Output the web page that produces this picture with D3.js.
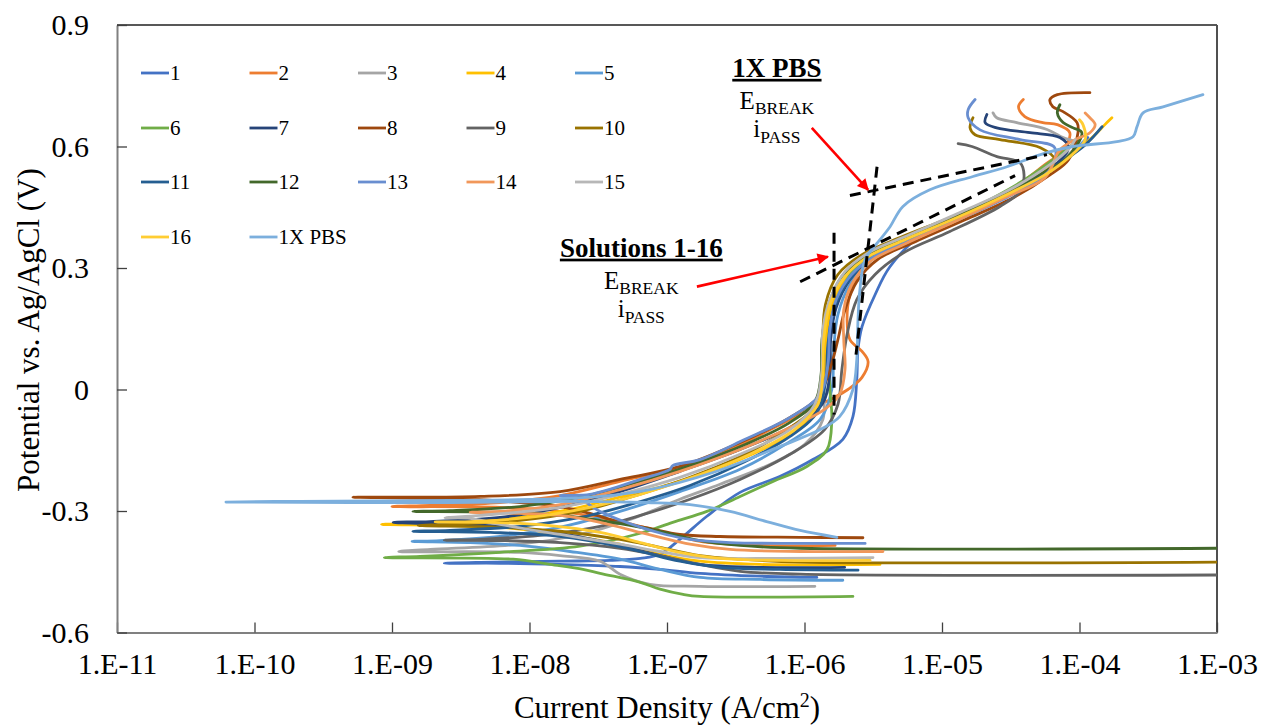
<!DOCTYPE html>
<html>
<head>
<meta charset="utf-8">
<script src="https://cdn.jsdelivr.net/npm/d3@7"></script>
<style>
  body { margin: 0; background: #fff; }
  svg { display: block; }
  text { font-family: "Liberation Serif", "Times New Roman", serif; fill: #000; }
</style>
</head>
<body>
<svg id="chart" width="1262" height="725"></svg>
<script>
// Axis ticks
const xTicks = [1e-11, 1e-10, 1e-9, 1e-8, 1e-7, 1e-6, 1e-5, 1e-4, 1e-3];
const xTickLabels = ["1.E-11", "1.E-10", "1.E-09", "1.E-08", "1.E-07", "1.E-06", "1.E-05", "1.E-04", "1.E-03"];
const yTicks = [-0.6, -0.3, 0, 0.3, 0.6, 0.9];
const yTickLabels = ["-0.6", "-0.3", "0", "0.3", "0.6", "0.9"];

// Series names and colours
const seriesNames = ["1", "2", "3", "4", "5", "6", "7", "8", "9", "10", "11", "12", "13", "14", "15", "16", "1X PBS"];
const seriesColors = ["#4472C4", "#ED7D31", "#A5A5A5", "#FFC000", "#5B9BD5", "#70AD47", "#264478", "#9E480E",
                      "#636363", "#997300", "#255E91", "#43682B", "#698ED0", "#F1975A", "#B7B7B7", "#FFCD33", "#7CAFDD"];

// Polarization scans: [current density (A/cm2), potential (V vs Ag/AgCl)]
const s1 = [[1.23e-6,-0.464],[4.75e-7,-0.461],[1.74e-7,-0.454],[8.9e-8,-0.444],[4.55e-8,-0.437],[1.67e-8,-0.432],[6.1e-9,-0.429],[2.4e-9,-0.429],
  [4.4e-9,-0.427],[1.67e-8,-0.424],[3.85e-8,-0.422],[6.4e-8,-0.417],[8.9e-8,-0.407],[1.24e-7,-0.37],[1.95e-7,-0.313],[3.4e-7,-0.254],[6.6e-7,-0.215],
  [1.15e-6,-0.173],[1.9e-6,-0.123],[2.25e-6,-0.067],[2.4e-6,0.025],[2.45e-6,0.099],[2.62e-6,0.155],[3.26e-6,0.234],[4.18e-6,0.303],[7.3e-6,0.387],
  [1.29e-5,0.432],[2.97e-5,0.486],[6.9e-5,0.55],[1.0e-4,0.6],[1.15e-4,0.622]];
const s2 = [[1.67e-6,-0.385],[4.75e-7,-0.385],[1.74e-7,-0.375],[8.9e-8,-0.35],[4.55e-8,-0.326],[1.67e-8,-0.301],[6.1e-9,-0.291],[1.0e-9,-0.289],
  [1.89e-9,-0.286],[6.1e-9,-0.279],[1.67e-8,-0.262],[4.55e-8,-0.227],[1.24e-7,-0.192],[3.4e-7,-0.136],[7.85e-7,-0.074],[1.53e-6,-0.025],[2.07e-6,0],
  [2.62e-6,0.03],[2.9e-6,0.069],[2.62e-6,0.094],[2.14e-6,0.123],[2.04e-6,0.173],[2.14e-6,0.234],[2.53e-6,0.291],[3.54e-6,0.34],[6.4e-6,0.382],
  [1.47e-5,0.439],[3.4e-5,0.501],[5.6e-5,0.555],[7.4e-5,0.587],[8.5e-5,0.634],[6.9e-5,0.654],[5.4e-5,0.659],[4.0e-5,0.674],[3.6e-5,0.698],[3.9e-5,0.716]];
const s3 = [[1.19e-6,-0.486],[1.74e-7,-0.486],[7.5e-8,-0.481],[4.55e-8,-0.456],[3.26e-8,-0.424],[1.67e-8,-0.41],[8.5e-9,-0.402],[1.12e-9,-0.4],
  [1.9e-9,-0.395],[8.5e-9,-0.382],[2.33e-8,-0.358],[5.4e-8,-0.321],[1.24e-7,-0.271],[2.43e-7,-0.234],[5.6e-7,-0.185],[1.0e-6,-0.136],[1.36e-6,-0.074],
  [1.36e-6,0.025],[1.4e-6,0.123],[1.58e-6,0.21],[1.97e-6,0.276],[2.9e-6,0.333],[5.4e-6,0.375],[1.14e-5,0.419],[2.64e-5,0.474],[5.6e-5,0.53],
  [8.3e-5,0.58],[9.7e-5,0.607],[7.6e-5,0.622],[5.8e-5,0.642],[3.5e-5,0.659],[2.5e-5,0.671],[2.35e-5,0.683]];
const s4 = [[3.54e-6,-0.432],[4.75e-7,-0.432],[1.74e-7,-0.424],[8.9e-8,-0.407],[4.55e-8,-0.382],[1.67e-8,-0.358],[6.1e-9,-0.34],[8.4e-10,-0.333],
  [1.6e-9,-0.331],[6.1e-9,-0.321],[1.67e-8,-0.301],[4.55e-8,-0.266],[1.24e-7,-0.227],[3.4e-7,-0.173],[7.85e-7,-0.111],[1.25e-6,-0.049],[1.4e-6,0.025],
  [1.43e-6,0.123],[1.6e-6,0.21],[2.07e-6,0.284],[3.1e-6,0.333],[5.8e-6,0.375],[1.35e-5,0.429],[3.1e-5,0.486],[6.6e-5,0.548],[1.19e-4,0.617],
  [1.53e-4,0.654],[1.72e-4,0.671]];
const s5 = [[1.9e-6,-0.471],[4.75e-7,-0.469],[1.74e-7,-0.464],[8.9e-8,-0.444],[4.55e-8,-0.419],[1.97e-8,-0.4],[8.5e-9,-0.385],[3.7e-9,-0.378],[1.4e-9,-0.375],
  [2.23e-9,-0.373],[6.1e-9,-0.363],[1.67e-8,-0.34],[4.55e-8,-0.301],[1.24e-7,-0.252],[3.4e-7,-0.197],[7.2e-7,-0.136],[1.3e-6,-0.074],[1.58e-6,0],
  [1.63e-6,0.099],[1.75e-6,0.185],[2.14e-6,0.259],[3.1e-6,0.321],[5.4e-6,0.365],[1.24e-5,0.415],[2.87e-5,0.474],[6.1e-5,0.538],[9.3e-5,0.592],[1.1e-4,0.617]];
const s6 = [[2.25e-6,-0.511],[1.74e-7,-0.511],[1.31e-7,-0.506],[8.9e-8,-0.493],[6.4e-8,-0.476],[3.26e-8,-0.454],[2.45e-8,-0.444],[1.41e-8,-0.432],[7.6e-9,-0.419],[8.8e-10,-0.415],
  [1.6e-9,-0.412],[6.1e-9,-0.402],[2.33e-8,-0.387],[6.4e-8,-0.355],[1.1e-7,-0.328],[1.95e-7,-0.301],[3.4e-7,-0.264],[5.9e-7,-0.227],[1.04e-6,-0.19],
  [1.46e-6,-0.148],[1.58e-6,-0.074],[1.53e-6,0],[1.5e-6,0.099],[1.58e-6,0.173],[1.87e-6,0.247],[2.45e-6,0.308],[3.54e-6,0.345],[6.9e-6,0.387],
  [1.6e-5,0.444],[3.7e-5,0.511],[7.2e-5,0.58],[9.8e-5,0.617]];
const s7 = [[1.96e-6,-0.439],[4.75e-7,-0.439],[1.74e-7,-0.432],[8.9e-8,-0.41],[4.55e-8,-0.385],[1.67e-8,-0.355],[6.1e-9,-0.338],[1.02e-9,-0.328],
  [1.89e-9,-0.326],[6.1e-9,-0.316],[1.67e-8,-0.291],[4.55e-8,-0.252],[1.24e-7,-0.202],[3.4e-7,-0.148],[7.85e-7,-0.094],[1.34e-6,-0.037],[1.53e-6,0.037],
  [1.55e-6,0.123],[1.7e-6,0.202],[2.14e-6,0.271],[3.15e-6,0.326],[5.8e-6,0.37],[1.35e-5,0.424],[3.1e-5,0.481],[6.1e-5,0.543],[8.3e-5,0.597],
  [7.2e-5,0.622],[4.37e-5,0.634],[2.5e-5,0.646],[2.06e-5,0.659],[2.12e-5,0.679]];
const s8 = [[2.66e-6,-0.366],[9.3e-7,-0.365],[2.43e-7,-0.363],[1.24e-7,-0.358],[7.5e-8,-0.343],[4.55e-8,-0.328],[2.75e-8,-0.306],[1.67e-8,-0.289],[8.5e-9,-0.279],[3.7e-9,-0.271],[5.2e-10,-0.266],
  [1.14e-9,-0.266],[4.4e-9,-0.264],[1.67e-8,-0.252],[4.55e-8,-0.222],[1.24e-7,-0.19],[3.4e-7,-0.131],[7.85e-7,-0.069],[1.25e-6,-0.02],[1.53e-6,0.049],
  [1.75e-6,0.123],[1.97e-6,0.197],[2.4e-6,0.266],[3.4e-6,0.321],[6.4e-6,0.365],[1.47e-5,0.419],[3.4e-5,0.476],[6.1e-5,0.53],[8.3e-5,0.567],
  [9.75e-5,0.634],[9.6e-5,0.659],[7.6e-5,0.686],[6.4e-5,0.698],[6.1e-5,0.716],[6.9e-5,0.728],[1.19e-4,0.733]];
const s9 = [[1e-3,-0.458],[9.3e-7,-0.456],[3.4e-7,-0.449],[1.74e-7,-0.432],[8.9e-8,-0.41],[4.55e-8,-0.392],[1.67e-8,-0.378],[6.1e-9,-0.373],[2.4e-9,-0.372],
  [4.4e-9,-0.37],[1.19e-8,-0.36],[3.26e-8,-0.338],[6.4e-8,-0.311],[1.47e-7,-0.271],[3.4e-7,-0.222],[7.85e-7,-0.16],[1.4e-6,-0.099],[1.75e-6,-0.037],
  [1.87e-6,0.049],[2.04e-6,0.136],[2.4e-6,0.222],[3.26e-6,0.284],[5.4e-6,0.34],[1.14e-5,0.39],[2.64e-5,0.452],[3.69e-5,0.489],[3.95e-5,0.53],
  [3.69e-5,0.56],[2.51e-5,0.575],[1.65e-5,0.6],[1.31e-5,0.607]];
const s10 = [[1e-3,-0.426],[9.3e-7,-0.426],[3.4e-7,-0.419],[1.74e-7,-0.41],[8.9e-8,-0.39],[4.55e-8,-0.37],[1.67e-8,-0.35],[6.1e-9,-0.34],[1.55e-9,-0.336],
  [2.64e-9,-0.333],[8.5e-9,-0.323],[2.33e-8,-0.301],[5.4e-8,-0.266],[1.47e-7,-0.217],[3.7e-7,-0.16],[7.85e-7,-0.094],[1.24e-6,-0.037],[1.36e-6,0.037],
  [1.36e-6,0.123],[1.42e-6,0.21],[1.75e-6,0.284],[2.62e-6,0.333],[4.95e-6,0.375],[1.14e-5,0.424],[2.64e-5,0.479],[5.2e-5,0.53],[6.6e-5,0.567],
  [5.2e-5,0.597],[2.64e-5,0.617],[1.74e-5,0.629],[1.6e-5,0.646],[1.68e-5,0.671]];
const s11 = [[2.45e-6,-0.446],[6.6e-7,-0.444],[2.43e-7,-0.439],[1.24e-7,-0.424],[6.4e-8,-0.4],[3.26e-8,-0.378],[1.41e-8,-0.36],[5.2e-9,-0.353],[1.42e-9,-0.35],
  [2.64e-9,-0.348],[8.5e-9,-0.338],[2.33e-8,-0.316],[5.4e-8,-0.284],[1.47e-7,-0.237],[3.7e-7,-0.178],[7.85e-7,-0.116],[1.25e-6,-0.054],[1.43e-6,0.025],
  [1.48e-6,0.111],[1.63e-6,0.197],[2.07e-6,0.266],[3.0e-6,0.321],[5.4e-6,0.365],[1.24e-5,0.419],[2.87e-5,0.479],[6.1e-5,0.543],[1.1e-4,0.604],[1.46e-4,0.649]];
const s12 = [[1e-3,-0.392],[9.3e-7,-0.392],[3.4e-7,-0.385],[1.74e-7,-0.373],[8.9e-8,-0.35],[4.55e-8,-0.331],[1.67e-8,-0.311],[6.1e-9,-0.303],[1.42e-9,-0.301],
  [2.64e-9,-0.299],[8.5e-9,-0.289],[2.33e-8,-0.266],[5.4e-8,-0.234],[1.47e-7,-0.188],[3.7e-7,-0.136],[7.85e-7,-0.081],[1.19e-6,-0.03],[1.32e-6,0.037],
  [1.34e-6,0.123],[1.5e-6,0.21],[1.87e-6,0.279],[2.8e-6,0.328],[5.4e-6,0.37],[1.24e-5,0.424],[2.87e-5,0.484],[5.6e-5,0.538],[7.85e-5,0.567],
  [1.04e-4,0.634],[9.0e-5,0.646],[7.6e-5,0.659],[6.9e-5,0.683],[7.2e-5,0.703]];
const s13 = [[2.76e-6,-0.38],[9.3e-7,-0.38],[2.87e-7,-0.378],[1.47e-7,-0.37],[9.8e-8,-0.358],[6.4e-8,-0.34],[3.26e-8,-0.301],[2.33e-8,-0.271],[1.67e-8,-0.262],
  [2.75e-8,-0.259],[6.4e-8,-0.222],[1.05e-7,-0.197],[1.1e-7,-0.188],[1.74e-7,-0.173],[3.7e-7,-0.123],[7.85e-7,-0.069],[1.3e-6,-0.012],[1.48e-6,0.062],
  [1.53e-6,0.148],[1.7e-6,0.222],[2.2e-6,0.284],[3.3e-6,0.331],[6.05e-6,0.37],[1.4e-5,0.424],[3.23e-5,0.481],[6.1e-5,0.543],[6.6e-5,0.597],
  [3.7e-5,0.617],[1.89e-5,0.641],[1.55e-5,0.671],[1.55e-5,0.691],[1.74e-5,0.716]];
const s14 = [[3.72e-6,-0.4],[9.3e-7,-0.4],[2.87e-7,-0.395],[1.47e-7,-0.382],[8.9e-8,-0.365],[6.4e-8,-0.353],[3.26e-8,-0.328],[1.67e-8,-0.311],[8.5e-9,-0.306],[3.7e-9,-0.303],
  [6.1e-9,-0.301],[1.67e-8,-0.284],[4.55e-8,-0.247],[1.24e-7,-0.202],[3.4e-7,-0.148],[7.85e-7,-0.094],[1.4e-6,-0.049],[1.8e-6,-0.012],[1.97e-6,0.049],
  [1.93e-6,0.123],[1.93e-6,0.197],[2.2e-6,0.259],[3.0e-6,0.316],[5.4e-6,0.36],[1.24e-5,0.415],[2.87e-5,0.474],[5.6e-5,0.523],[7.2e-5,0.592],
  [9.3e-5,0.617],[1.19e-4,0.634],[1.3e-4,0.654],[1.19e-4,0.671],[1.1e-4,0.683]];
const s15 = [[3.15e-6,-0.415],[6.6e-7,-0.417],[1.74e-7,-0.415],[8.9e-8,-0.4],[4.55e-8,-0.382],[1.67e-8,-0.358],[6.1e-9,-0.333],[3.7e-9,-0.318],[2.43e-9,-0.317],
  [4.4e-9,-0.311],[1.67e-8,-0.291],[4.55e-8,-0.259],[1.24e-7,-0.217],[3.4e-7,-0.16],[7.85e-7,-0.099],[1.19e-6,-0.037],[1.34e-6,0.049],[1.36e-6,0.148],
  [1.53e-6,0.222],[1.97e-6,0.291],[3.0e-6,0.34],[5.8e-6,0.382],[1.35e-5,0.437],[3.1e-5,0.493],[6.1e-5,0.555],[8.5e-5,0.597],[9.3e-5,0.617]];
const s16 = [[3.0e-6,-0.422],[6.6e-7,-0.422],[2.43e-7,-0.417],[1.24e-7,-0.402],[6.4e-8,-0.378],[3.26e-8,-0.353],[1.41e-8,-0.336],[5.2e-9,-0.328],[2.06e-9,-0.327],
  [3.7e-9,-0.326],[1.0e-8,-0.316],[2.75e-8,-0.291],[6.4e-8,-0.259],[1.74e-7,-0.21],[4.0e-7,-0.16],[8.5e-7,-0.099],[1.25e-6,-0.037],[1.36e-6,0.037],
  [1.38e-6,0.123],[1.53e-6,0.21],[1.97e-6,0.279],[2.9e-6,0.328],[5.4e-6,0.37],[1.24e-5,0.422],[2.87e-5,0.479],[5.6e-5,0.53],[8.3e-5,0.572],
  [1.1e-4,0.617],[1.06e-4,0.654],[1.0e-4,0.666]];
const sPBS = [[1.72e-6,-0.365],[9.3e-7,-0.348],[5.3e-7,-0.326],[2.87e-7,-0.301],[1.47e-7,-0.284],[7.1e-8,-0.279],[2.33e-8,-0.276],[2.64e-9,-0.279],[6.2e-11,-0.278],
  [2.14e-10,-0.276],[2.64e-9,-0.274],[1.19e-8,-0.271],[3.26e-8,-0.264],[7.5e-8,-0.247],[2.16e-7,-0.205],[6.6e-7,-0.141],[1.3e-6,-0.099],[1.8e-6,-0.067],
  [2.25e-6,0],[2.4e-6,0.074],[2.45e-6,0.173],[2.53e-6,0.247],[2.76e-6,0.321],[3.54e-6,0.37],[4.19e-6,0.402],[5.2e-6,0.452],[8.16e-6,0.493],
  [1.68e-5,0.526],[2.97e-5,0.55],[5.2e-5,0.58],[8.95e-5,0.6],[1.87e-4,0.612],[2.45e-4,0.624],[2.62e-4,0.649],[2.9e-4,0.683],[4.05e-4,0.698],[7.9e-4,0.728]];

const seriesData = [s1, s2, s3, s4, s5, s6, s7, s8, s9, s10, s11, s12, s13, s14, s15, s16, sPBS];

// Tangent constructions for E_break / i_pass: [current, potential] end points
const pbsTangentPass = [[2.14e-6, 0.479], [5.8e-5, 0.58]];
const pbsTangentBreak = [[3.37e-6, 0.55], [2.37e-6, 0.086]];
const solTangentPass = [[1.64e-6, 0.387], [1.64e-6, -0.062]];
const solTangentBreak = [[9.3e-7, 0.266], [3.4e-5, 0.528]];
const arrowPBS = [[1.13e-6, 0.646], [2.9e-6, 0.493]];
const arrowSol = [[1.65e-7, 0.254], [1.48e-6, 0.328]];
// Annotation anchors: [current, potential] of the title centre / baseline
const pbsLabelAt = [6.3e-7, 0.772];
const solLabelAt = [6.5e-8, 0.328];

// ---- layout ----
const svg = d3.select("#chart");
const plotL = 117, plotR = 1217, plotT = 25, plotB = 632.5;

const x = d3.scaleLog().domain([1e-11, 1e-3]).range([plotL, plotR]);
const y = d3.scaleLinear().domain([-0.6, 0.9]).range([plotB, plotT]);

const defs = svg.append("defs");
defs.append("clipPath").attr("id", "plotClip")
  .append("rect").attr("x", plotL).attr("y", plotT).attr("width", plotR - plotL).attr("height", plotB - plotT);
defs.append("marker").attr("id", "redHead")
  .attr("viewBox", "0 0 10 10").attr("refX", 9).attr("refY", 5)
  .attr("markerWidth", 5).attr("markerHeight", 4.4).attr("orient", "auto")
  .attr("markerUnits", "strokeWidth")
  .append("path").attr("d", "M0,0 L10,5 L0,10 Z").attr("fill", "#FF0000");

// Frame: top and right borders
svg.append("line").attr("x1", plotL).attr("x2", plotR).attr("y1", plotT).attr("y2", plotT)
  .attr("stroke", "#202020").attr("stroke-width", 1.4);
svg.append("line").attr("x1", plotR).attr("x2", plotR).attr("y1", plotT).attr("y2", plotB)
  .attr("stroke", "#505050").attr("stroke-width", 2);

// Axes (ticks pointing into the plot)
const xAxis = d3.axisBottom(x).tickValues(xTicks)
  .tickFormat((d, i) => xTickLabels[i]).tickSizeInner(-10).tickSizeOuter(0).tickPadding(20);
const gx = svg.append("g").attr("transform", `translate(0,${plotB})`).call(xAxis);
gx.select(".domain").attr("stroke", "#808080").attr("stroke-width", 2);
gx.selectAll(".tick line").attr("stroke", "#404040").attr("stroke-width", 1.3);
gx.selectAll(".tick text").attr("font-size", 30).attr("dy", "0.7em")
  .style("font-family", '"Liberation Serif", serif').attr("fill", "#000");

const yAxis = d3.axisLeft(y).tickValues(yTicks)
  .tickFormat((d, i) => yTickLabels[i]).tickSizeInner(-10).tickSizeOuter(0).tickPadding(28);
const gy = svg.append("g").attr("transform", `translate(${plotL},0)`).call(yAxis);
gy.select(".domain").attr("stroke", "#808080").attr("stroke-width", 2);
gy.selectAll(".tick line").attr("stroke", "#404040").attr("stroke-width", 1.3);
gy.selectAll(".tick text").attr("font-size", 30)
  .style("font-family", '"Liberation Serif", serif').attr("fill", "#000");

// Axis titles
const xt = svg.append("text").attr("x", 667).attr("y", 718).attr("text-anchor", "middle").attr("font-size", 31);
xt.append("tspan").text("Current Density (A/cm");
xt.append("tspan").attr("font-size", 20).attr("dy", -11).text("2");
xt.append("tspan").attr("dy", 11).text(")");

svg.append("text").attr("transform", "translate(28,330) rotate(-90)")
  .attr("text-anchor", "middle").attr("dominant-baseline", "central").attr("font-size", 31)
  .text("Potential vs. Ag/AgCl (V)");

// Curves
const line = d3.line().x(d => x(d[0])).y(d => y(d[1])).curve(d3.curveCatmullRom.alpha(0.5));
const gLines = svg.append("g").attr("clip-path", "url(#plotClip)");
seriesData.forEach((data, i) => {
  gLines.append("path").datum(data)
    .attr("d", line).attr("fill", "none")
    .attr("stroke", seriesColors[i]).attr("stroke-width", 2.8)
    .attr("stroke-linejoin", "round").attr("stroke-linecap", "round");
});

// Dashed tangent lines
const straight = d3.line().x(d => x(d[0])).y(d => y(d[1]));
[pbsTangentPass, pbsTangentBreak, solTangentPass, solTangentBreak].forEach(seg => {
  svg.append("path").datum(seg).attr("d", straight).attr("fill", "none")
    .attr("stroke", "#000").attr("stroke-width", 3).attr("stroke-dasharray", "11,7");
});

// Red arrows
[arrowPBS, arrowSol].forEach(seg => {
  svg.append("path").datum(seg).attr("d", straight).attr("fill", "none")
    .attr("stroke", "#FF0000").attr("stroke-width", 2.6).attr("marker-end", "url(#redHead)");
});

// Annotation text blocks
function annotation(anchor, title) {
  const cx = x(anchor[0]), by = y(anchor[1]);
  svg.append("text").attr("x", cx).attr("y", by).attr("text-anchor", "middle")
    .attr("font-size", 27).attr("font-weight", "bold")
    .style("text-decoration", "underline").text(title);
  const e = svg.append("text").attr("x", cx).attr("y", by + 32).attr("text-anchor", "middle").attr("font-size", 25);
  e.append("tspan").text("E");
  e.append("tspan").attr("font-size", 17.5).attr("dy", 5).text("BREAK");
  const ip = svg.append("text").attr("x", cx).attr("y", by + 60).attr("text-anchor", "middle").attr("font-size", 25);
  ip.append("tspan").text("i");
  ip.append("tspan").attr("font-size", 17.5).attr("dy", 6).text("PASS");
}
annotation(pbsLabelAt, "1X PBS");
annotation(solLabelAt, "Solutions 1-16");

// Legend: 5 columns x 4 rows
const legX = [141, 249.5, 358, 466.5, 575];
const legY = [73, 128, 182, 237];
const gLeg = svg.append("g");
seriesNames.forEach((name, i) => {
  const cx = legX[i % 5], cy = legY[Math.floor(i / 5)];
  gLeg.append("line").attr("x1", cx).attr("x2", cx + 28).attr("y1", cy).attr("y2", cy)
    .attr("stroke", seriesColors[i]).attr("stroke-width", 2.8);
  gLeg.append("text").attr("x", cx + 29).attr("y", cy).attr("dominant-baseline", "central")
    .attr("font-size", 21).text(name);
});
</script>
</body>
</html>
